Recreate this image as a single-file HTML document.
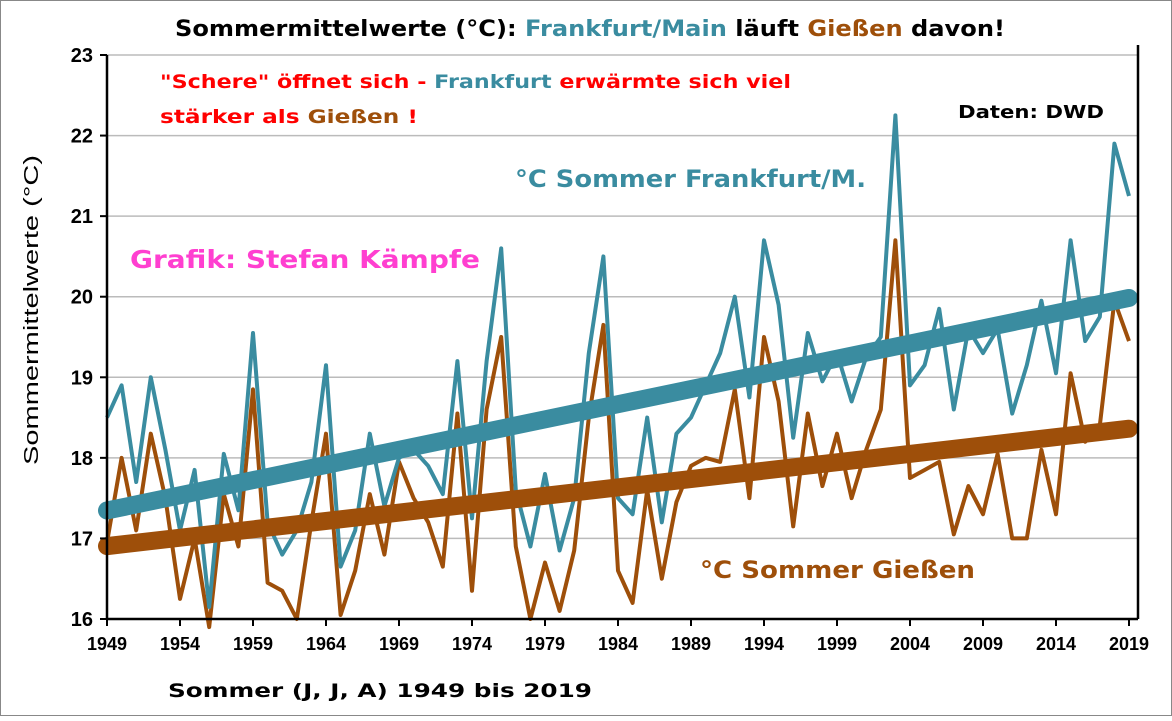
<!DOCTYPE html>
<html><head><meta charset="utf-8"><style>
body{margin:0;background:#fff;}
svg text{font-family:"Liberation Sans",Arial,sans-serif;font-weight:bold;}
svg text.wide{font-family:"DejaVu Sans","Liberation Sans",sans-serif;font-weight:bold;}
</style></head><body>
<svg id="chart" width="1172" height="716" viewBox="0 0 1172 716" xmlns="http://www.w3.org/2000/svg">
<rect x="0.5" y="0.5" width="1171" height="715" fill="#fff" stroke="#888" stroke-width="1"/>
<g id="grid"></g>
<g id="series"></g>
<g id="axes"></g>
<text class="wide" x="175" y="36" font-size="22" textLength="830" lengthAdjust="spacingAndGlyphs"><tspan fill="#000">Sommermittelwerte (°C): </tspan><tspan fill="#3A8CA0">Frankfurt/Main</tspan><tspan fill="#000"> läuft </tspan><tspan fill="#9E4F0A">Gießen</tspan><tspan fill="#000"> davon!</tspan></text>
<text class="wide" x="160" y="88" font-size="19" fill="#f00" textLength="631" lengthAdjust="spacingAndGlyphs">"Schere" öffnet sich - <tspan fill="#3A8CA0">Frankfurt</tspan> erwärmte sich viel</text>
<text class="wide" x="160" y="123" font-size="19" fill="#f00" textLength="258" lengthAdjust="spacingAndGlyphs">stärker als <tspan fill="#9E4F0A">Gießen</tspan> !</text>
<text class="wide" x="958" y="118" font-size="18" fill="#000" textLength="146" lengthAdjust="spacingAndGlyphs">Daten: DWD</text>
<text class="wide" x="515" y="187" font-size="24" fill="#3A8CA0" textLength="351" lengthAdjust="spacingAndGlyphs">°C Sommer Frankfurt/M.</text>
<text class="wide" x="130" y="268" font-size="25" fill="#FF3FD0" textLength="350" lengthAdjust="spacingAndGlyphs">Grafik: Stefan Kämpfe</text>
<text class="wide" x="700" y="578" font-size="24" fill="#9E4F0A" textLength="275" lengthAdjust="spacingAndGlyphs">°C Sommer Gießen</text>
<text transform="translate(38,310) rotate(-90)" font-size="20" text-anchor="middle" style="font-weight:normal" textLength="310" lengthAdjust="spacingAndGlyphs">Sommermittelwerte  (°C)</text>
<text class="wide" x="168" y="697" font-size="19" fill="#000" textLength="424" lengthAdjust="spacingAndGlyphs">Sommer (J, J, A) 1949 bis 2019</text>
</svg>
<script>
const years=[];for(let y=1949;y<=2019;y++)years.push(y);
const frankfurt=[18.5,18.9,17.7,19.0,18.1,17.1,17.85,16.15,18.05,17.35,19.55,17.2,16.8,17.1,17.7,19.15,16.65,17.1,18.3,17.4,18.0,18.1,17.9,17.55,19.2,17.25,19.2,20.6,17.6,16.9,17.8,16.85,17.5,19.3,20.5,17.5,17.3,18.5,17.2,18.3,18.5,18.9,19.3,20.0,18.75,20.7,19.9,18.25,19.55,18.95,19.3,18.7,19.25,19.5,22.25,18.9,19.15,19.85,18.6,19.6,19.3,19.6,18.55,19.15,19.95,19.05,20.7,19.45,19.75,21.9,21.25];
const giessen=[16.95,18.0,17.1,18.3,17.5,16.25,17.0,15.9,17.55,16.9,18.85,16.45,16.35,16.0,17.2,18.3,16.05,16.6,17.55,16.8,17.95,17.5,17.2,16.65,18.55,16.35,18.6,19.5,16.9,16.0,16.7,16.1,16.85,18.5,19.65,16.6,16.2,17.6,16.5,17.45,17.9,18.0,17.95,18.85,17.5,19.5,18.7,17.15,18.55,17.65,18.3,17.5,18.1,18.6,20.7,17.75,17.85,17.95,17.05,17.65,17.3,18.05,17.0,17.0,18.1,17.3,19.05,18.2,18.4,19.95,19.45];
const yTicks=[16,17,18,19,20,21,22,23];
const xTickYears=[1949,1954,1959,1964,1969,1974,1979,1984,1989,1994,1999,2004,2009,2014,2019];
const NS="http://www.w3.org/2000/svg";
const X0=107,X1=1129,Y0=619,Y1=55,YMIN=16,YMAX=23;
function sx(y){return X0+(y-1949)*(X1-X0)/70;}
function sy(v){return Y0-(v-YMIN)*(Y0-Y1)/(YMAX-YMIN);}
function mk(t,a,p){const e=document.createElementNS(NS,t);for(const k in a)e.setAttribute(k,a[k]);p.appendChild(e);return e;}
const grid=document.getElementById('grid'),axes=document.getElementById('axes'),ser=document.getElementById('series');
yTicks.forEach(v=>{
 if(v>YMIN){const g=mk('line',{x1:X0,x2:1138,y1:sy(v),y2:sy(v),stroke:'#bbb','stroke-width':1.5},grid);
 
 }
 const tk=mk('line',{x1:X0-7,x2:X0,y1:sy(v),y2:sy(v),stroke:'#000','stroke-width':2},axes);
 
 
 const t=mk('text',{x:X0-14,y:sy(v)+7,'font-size':20,'text-anchor':'end'},axes);t.textContent=v;
 
 
});
xTickYears.forEach(y=>{
 const tk=mk('line',{x1:sx(y),x2:sx(y),y1:Y0,y2:Y0+7,stroke:'#000','stroke-width':2},axes);
 
 
 const t=mk('text',{x:sx(y),y:Y0+31,'font-size':18,'text-anchor':'middle'},axes);t.textContent=y;
 
 
});
const ya=mk('line',{x1:X0,x2:X0,y1:Y1,y2:Y0,stroke:'#000','stroke-width':2.5},axes);


const xa=mk('line',{x1:X0,x2:1138,y1:Y0,y2:Y0,stroke:'#000','stroke-width':2.5},axes);


const rb=mk('line',{x1:1138,x2:1138,y1:Y1-10,y2:Y0,stroke:'#000','stroke-width':2.5},axes);


function trend(vals){const n=vals.length;let mx=0,my=0;years.forEach((y,i)=>{mx+=y;my+=vals[i];});mx/=n;my/=n;let sxy=0,sxx=0;years.forEach((y,i)=>{sxy+=(y-mx)*(vals[i]-my);sxx+=(y-mx)*(y-mx);});const b=sxy/sxx;return [my+b*(1949-mx),my+b*(2019-mx)];}
function line(vals,color,name){
 const p=mk('polyline',{points:vals.map((v,i)=>sx(years[i])+','+sy(v)).join(' '),fill:'none',stroke:color,'stroke-width':4,'stroke-linejoin':'round'},ser);
 
 
}
function tline(vals,color,w,name){
 const t=trend(vals);
 const l=mk('line',{x1:sx(1949),x2:sx(2019),y1:sy(t[0]),y2:sy(t[1]),stroke:color,'stroke-width':w,'stroke-linecap':'round'},ser);
 
 
}
line(giessen,'#9E4F0A','giessen-line');
line(frankfurt,'#3A8CA0','frankfurt-line');
tline(giessen,'#9E4F0A',18,'giessen-trend');
tline(frankfurt,'#3A8CA0',18,'frankfurt-trend');
</script>
</body></html>
